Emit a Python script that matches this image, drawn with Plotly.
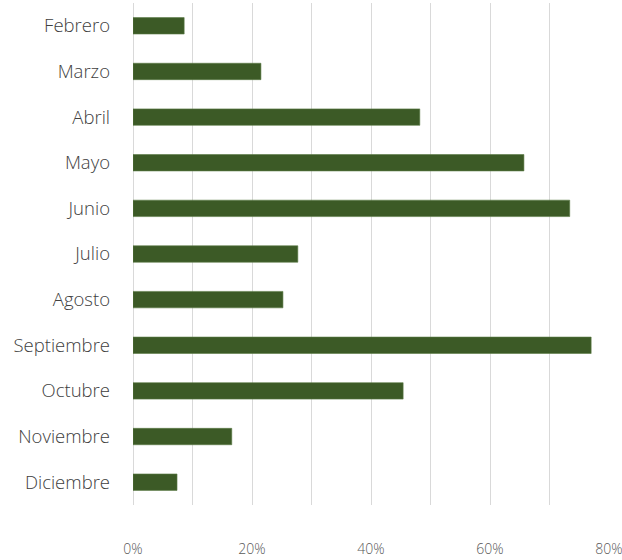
import plotly.graph_objects as go

meses = ["Febrero", "Marzo", "Abril", "Mayo", "Junio", "Julio", "Agosto",
         "Septiembre", "Octubre", "Noviembre", "Diciembre"]
valores = [8.6, 21.5, 48.2, 65.7, 73.4, 27.7, 25.2, 77.0, 45.4, 16.6, 7.4]
tick_vals = [0, 10, 20, 30, 40, 50, 60, 70, 80]
tick_text = ["0%", "", "20%", "", "40%", "", "60%", "", "80%"]

fig = go.Figure(go.Bar(
    x=valores, y=meses, orientation="h",
    marker=dict(color="#3c5a26", line=dict(color="#5b7a45", width=0.6)),
    width=0.36,
))

fig.update_layout(
    width=622, height=560,
    margin=dict(l=133, r=13, t=3, b=55, autoexpand=False),
    paper_bgcolor="white", plot_bgcolor="white",
    font=dict(family="Open Sans, Segoe UI, sans-serif"),
    showlegend=False,
    bargap=0.64,
)
fig.update_xaxes(
    range=[0, 80], tickvals=tick_vals, ticktext=tick_text,
    showgrid=True, gridcolor="#d9d9d9", gridwidth=1.3,
    zeroline=True, zerolinecolor="#d9d9d9", zerolinewidth=1.3,
    tickfont=dict(size=14, color="#595959", weight=300),
    ticklabelstandoff=34, showline=False, automargin=False,
    ticklabeloverflow="allow",
)
fig.update_yaxes(
    categoryorder="array", categoryarray=meses, autorange="reversed",
    showgrid=False, zeroline=False,
    tickfont=dict(size=18.5, color="#404040", weight=300),
    ticklabelstandoff=22, automargin=False,
)

fig.write_html(
    "out.html",
    config={"displayModeBar": False},
    post_script="document.body.style.margin='0';document.body.style.overflow='hidden';",
)
